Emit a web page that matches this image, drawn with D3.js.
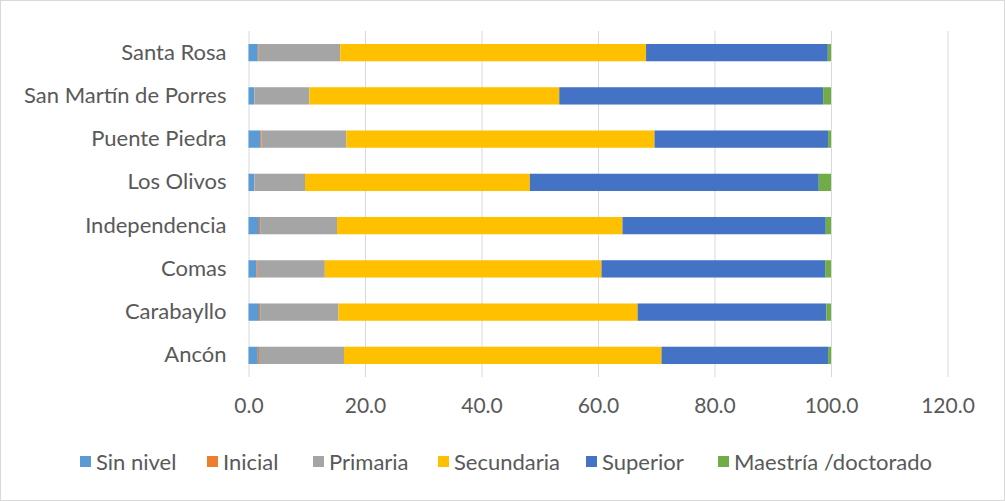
<!DOCTYPE html>
<html><head><meta charset="utf-8">
<script src="https://cdn.jsdelivr.net/npm/d3@7"></script>
<style>body{margin:0;background:#fff;} text{font-family:Lato, "Noto Sans", sans-serif;}</style>
</head><body><svg id="c" width="1005" height="501"></svg>
<script>
const categories = ["Santa Rosa","San Martín de Porres","Puente Piedra","Los Olivos","Independencia","Comas","Carabayllo","Ancón"];
const seriesNames = ["Sin nivel","Inicial","Primaria","Secundaria","Superior","Maestría /doctorado"];
const colors = ["#5b9bd5","#ed7d31","#a5a5a5","#ffc000","#4472c4","#70ad47"];
const sinNivel   = [1.6, 1.0, 2.0, 1.0, 1.8, 1.4, 1.8, 1.6];
const inicial    = [0.15, 0.05, 0.2, 0.05, 0.2, 0.2, 0.2, 0.2];
const primaria   = [14.0, 9.4, 14.6, 8.65, 13.2, 11.5, 13.45, 14.6];
const secundaria = [52.5, 42.9, 52.9, 38.6, 49.0, 47.5, 51.35, 54.5];
const superior   = [31.2, 45.3, 29.8, 49.6, 34.9, 38.4, 32.4, 28.6];
const maestria   = [0.55, 1.35, 0.5, 2.1, 0.9, 1.0, 0.8, 0.5];
const xTicks = [0,20,40,60,80,100,120];

const svg = d3.select("#c");
svg.append("rect").attr("x",0.5).attr("y",0.5).attr("width",1004).attr("height",500)
  .attr("fill","#fff").attr("stroke","#d9d9d9");

const x = d3.scaleLinear().domain([0,120]).range([248.5,947.5]);
const y = d3.scaleBand().domain(categories).range([31,377]).paddingInner(0.6).paddingOuter(0.3);

// gridlines
const gx = svg.append("g").attr("transform","translate(0,377)")
  .call(d3.axisBottom(x).tickValues(xTicks).tickSize(-346).tickFormat(d=>d.toFixed(1)).tickPadding(21));
gx.select(".domain").remove();
gx.selectAll("line").attr("stroke","#d9d9d9");
gx.selectAll("text").attr("fill","#595959").style("font-size","21px");

const table = categories.map((c,i)=>({cat:c, "Sin nivel":sinNivel[i], "Inicial":inicial[i], "Primaria":primaria[i],
  "Secundaria":secundaria[i], "Superior":superior[i], "Maestría /doctorado":maestria[i]}));
const stack = d3.stack().keys(seriesNames)(table);

svg.append("g").selectAll("g").data(stack).join("g").attr("fill",(d,i)=>colors[i])
  .selectAll("rect").data(d=>d).join("rect")
  .attr("x",d=>x(d[0])).attr("width",d=>x(d[1])-x(d[0]))
  .attr("y",d=>y(d.data.cat)).attr("height",y.bandwidth());

const gy = svg.append("g").attr("transform","translate(248.5,0)")
  .call(d3.axisLeft(y).tickSize(0).tickPadding(22));
gy.select(".domain").remove();
gy.selectAll("text").attr("fill","#595959").style("font-size","22px");

// legend
const legX = [80,207,313,438,586,718];
const leg = svg.append("g").selectAll("g").data(seriesNames).join("g")
  .attr("transform",(d,i)=>`translate(${legX[i]},456)`);
leg.append("rect").attr("width",11).attr("height",11).attr("fill",(d,i)=>colors[i]);
leg.append("text").attr("x",16).attr("y",6).attr("dy","0.35em").attr("fill","#595959")
  .style("font-size","22px").text(d=>d);
</script></body></html>
